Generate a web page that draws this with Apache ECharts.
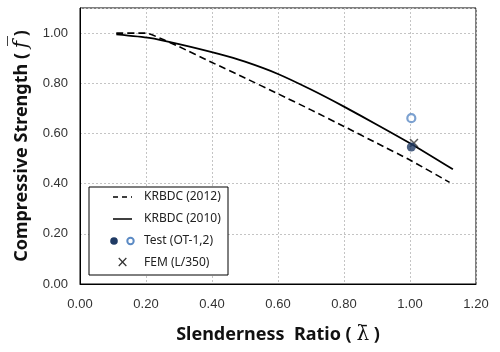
<!DOCTYPE html>
<html>
<head>
<meta charset="utf-8">
<script src="https://cdn.jsdelivr.net/npm/echarts@6/dist/echarts.min.js"></script>
<style>
  html, body { margin: 0; padding: 0; background: #fff; }
  #chart { width: 500px; height: 352px; }
</style>
</head>
<body>
<div id="chart"></div>
<script>
// KRBDC (2012) design curve, dashed
const krbdc2012 = [
  [0.11, 1.0], [0.20, 1.0], [0.25, 0.975], [0.30, 0.946], [0.40, 0.883], [0.50, 0.821],
  [0.60, 0.758], [0.70, 0.694], [0.80, 0.628], [0.90, 0.561], [1.00, 0.494], [1.12, 0.405]
]
// KRBDC (2010) design curve, solid
const krbdc2010 = [
  [0.11, 0.995], [0.21, 0.981], [0.30, 0.956], [0.42, 0.917], [0.50, 0.886],
  [0.60, 0.837], [0.70, 0.775], [0.80, 0.707], [0.90, 0.635], [1.00, 0.561], [1.13, 0.457]
]
const testOT1 = [[1.004, 0.546]]
const testOT2 = [[1.004, 0.661]]
const femL350 = [[1.012, 0.562]]

const xTicks = { min: 0, max: 1.2, interval: 0.2 }
const yTicks = { min: 0, max: 1.1, interval: 0.2 }

const legendItems = ['KRBDC (2012)', 'KRBDC (2010)', 'Test (OT-1,2)', 'FEM (L/350)']

const NAVY = '#1f3a64'
const STEEL = '#5b8ac4'
const TITLE_FONT = '"Noto Sans", "Open Sans", sans-serif'

const chart = echarts.init(document.getElementById('chart'))

// legend drawn by hand: box, symbols, labels
const LX = 89, LY = 187, LW = 139, LH = 88
const rowY = [197, 219, 241, 263]
const legendGraphics = [
  { type: 'rect', shape: { x: LX, y: LY, width: LW, height: LH },
    style: { fill: '#fff', stroke: '#000', lineWidth: 1 }, z: 100 },
  { type: 'line', shape: { x1: 113, y1: rowY[0], x2: 132, y2: rowY[0] },
    style: { stroke: '#000', lineWidth: 1.5, lineDash: [5, 4] }, z: 101 },
  { type: 'line', shape: { x1: 113, y1: rowY[1], x2: 132, y2: rowY[1] },
    style: { stroke: '#000', lineWidth: 1.5 }, z: 101 },
  { type: 'circle', shape: { cx: 114, cy: rowY[2], r: 3.8 },
    style: { fill: NAVY }, z: 101 },
  { type: 'circle', shape: { cx: 130.5, cy: rowY[2], r: 3.2 },
    style: { fill: '#fff', stroke: STEEL, lineWidth: 2 }, z: 101 },
  { type: 'text', x: 122.5, y: rowY[3],
    style: { text: '×', fill: '#333', font: '15px "DejaVu Sans"', align: 'center', verticalAlign: 'middle' }, z: 101 },
  ...legendItems.map((t, i) => ({
    type: 'text', x: 144, y: rowY[i],
    style: { text: t, fill: '#222', font: '12px ' + TITLE_FONT, verticalAlign: 'middle' }, z: 101
  }))
]

const option = {
  animation: false,
  grid: { left: 80, right: 24, top: 8, bottom: 68, show: true, borderColor: '#000', borderWidth: 1 },
  xAxis: {
    type: 'value',
    ...xTicks,
    axisLine: { show: true, lineStyle: { color: '#000' } },
    axisTick: { show: false },
    axisLabel: { color: '#333', fontSize: 13, fontFamily: 'Liberation Sans, Arial', margin: 14,
      formatter: v => v.toFixed(2) },
    splitLine: { show: true, lineStyle: { color: '#c4c4c4', type: [2, 2] } },
    name: '{b|Slenderness  Ratio ( }{l|λ\u0304}{b| )}',
    nameLocation: 'middle',
    nameGap: 41,
    nameTextStyle: {
      rich: {
        b: { fontSize: 18, fontWeight: 'bold', fontFamily: TITLE_FONT, color: '#111' },
        l: { fontSize: 20, fontFamily: 'DejaVu Serif', color: '#111' }
      }
    }
  },
  yAxis: {
    type: 'value',
    ...yTicks,
    axisLine: { show: true, lineStyle: { color: '#000' } },
    axisTick: { show: false },
    axisLabel: { color: '#333', fontSize: 13, fontFamily: 'Liberation Sans, Arial', margin: 12,
      formatter: v => (v > 1.05 ? '' : v.toFixed(2)) },
    splitLine: { show: true, lineStyle: { color: '#c4c4c4', type: [2, 2] } },
    name: '{b|Compressive Strength ( }{f|f\u0305}{b| )}',
    nameLocation: 'middle',
    nameGap: 46,
    nameTextStyle: {
      rich: {
        b: { fontSize: 18, fontWeight: 'bold', fontFamily: TITLE_FONT, color: '#111' },
        f: { fontSize: 20, fontStyle: 'italic', fontFamily: 'DejaVu Serif', color: '#111' }
      }
    }
  },
  graphic: legendGraphics,
  series: [
    { name: legendItems[0], type: 'line', data: krbdc2012, showSymbol: false, smooth: 0.2,
      lineStyle: { color: '#000', width: 1.6, type: [7, 4] }, z: 3 },
    { name: legendItems[1], type: 'line', data: krbdc2010, showSymbol: false, smooth: 0.2,
      lineStyle: { color: '#000', width: 1.8 }, z: 3 },
    { name: 'FEM', type: 'scatter', data: femL350, symbol: 'path://M0,0L10,10M10,0L0,10',
      symbolSize: 8, itemStyle: { color: 'none', borderColor: '#333', borderWidth: 1.5 }, z: 4 },
    { name: 'OT-1', type: 'scatter', data: testOT1, symbol: 'circle', symbolSize: 9,
      itemStyle: { color: NAVY }, z: 5 },
    { name: 'OT-2', type: 'scatter', data: testOT2, symbol: 'circle', symbolSize: 8,
      itemStyle: { color: '#fff', borderColor: STEEL, borderWidth: 2.2 }, z: 5 }
  ]
}

chart.setOption(option)
</script>
</body>
</html>
